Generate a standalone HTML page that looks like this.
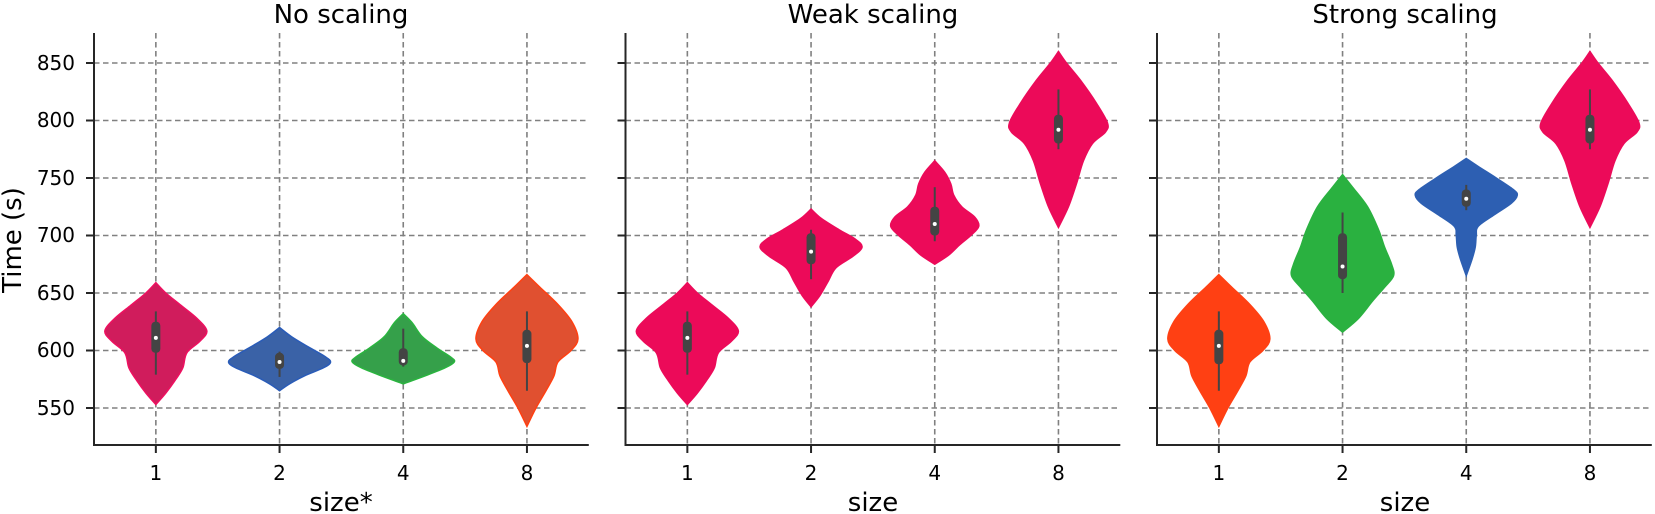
<!DOCTYPE html>
<html><head><meta charset="utf-8"><style>
html,body{margin:0;padding:0;background:#fff}
svg{display:block}
text{font-family:"DejaVu Sans","Liberation Sans",sans-serif;fill:#000}
</style></head><body>
<svg id="s" width="1655" height="514" viewBox="0 0 1655 514" xmlns="http://www.w3.org/2000/svg">
<g id="grid"></g><g id="vio"></g><g id="ax"></g>
<text x="341" y="23" font-size="26" text-anchor="middle">No scaling</text>
<text x="873" y="23" font-size="26" text-anchor="middle">Weak scaling</text>
<text x="1405" y="23" font-size="26" text-anchor="middle">Strong scaling</text>
<text x="341" y="511" font-size="26" text-anchor="middle">size*</text>
<text x="873" y="511" font-size="26" text-anchor="middle">size</text>
<text x="1405" y="511" font-size="26" text-anchor="middle">size</text>
<text transform="translate(21,240) rotate(-90)" font-size="26" text-anchor="middle">Time (s)</text>
<g font-size="20" text-anchor="end">
<text x="75" y="70">850</text><text x="75" y="127">800</text><text x="75" y="185">750</text>
<text x="75" y="242">700</text><text x="75" y="300">650</text><text x="75" y="357">600</text><text x="75" y="415">550</text>
</g>
<g id="xl" font-size="20" text-anchor="middle"></g>
</svg>
<script>
const NS="http://www.w3.org/2000/svg";
function el(p,t,a){const e=document.createElementNS(NS,t);for(const k in a)e.setAttribute(k,a[k]);document.getElementById(p).appendChild(e);return e;}
const Y=v=>408-(v-550)*1.15;
const Ls=[94,625.5,1157],TOP=33,BOT=445,SP=123.7;
const labs=["1","2","4","8"];
Ls.forEach(L=>{
  const R=L+4*SP;
  for(let v=550;v<=850;v+=50) el("grid","line",{x1:L,x2:R,y1:Y(v),y2:Y(v),stroke:"#808080","stroke-width":1.6,"stroke-dasharray":"5.5,3.5"});
  for(let k=0;k<4;k++){const x=L+SP/2+k*SP;
    el("grid","line",{x1:x,x2:x,y1:TOP,y2:BOT,stroke:"#808080","stroke-width":1.6,"stroke-dasharray":"5.5,3.5"});
    el("ax","line",{x1:x,x2:x,y1:BOT,y2:BOT+8,stroke:"#262626","stroke-width":2});
    const t=el("xl","text",{x:x,y:480});t.textContent=labs[k];}
  for(let v=550;v<=850;v+=50) el("ax","line",{x1:L-8,x2:L,y1:Y(v),y2:Y(v),stroke:"#262626","stroke-width":2});
  el("ax","line",{x1:L,x2:L,y1:TOP,y2:BOT+1,stroke:"#262626","stroke-width":2});
  el("ax","line",{x1:L-1,x2:R,y1:BOT,y2:BOT,stroke:"#262626","stroke-width":2});
});
function cr(pts){let d="M"+pts[0][0]+","+pts[0][1];
  for(let i=0;i<pts.length-1;i++){const p0=pts[Math.max(0,i-1)],p1=pts[i],p2=pts[i+1],p3=pts[Math.min(pts.length-1,i+2)];
    const c1=[p1[0]+(p2[0]-p0[0])/6,p1[1]+(p2[1]-p0[1])/6],c2=[p2[0]-(p3[0]-p1[0])/6,p2[1]-(p3[1]-p1[1])/6];
    d+=" C"+c1[0]+","+c1[1]+" "+c2[0]+","+c2[1]+" "+p2[0]+","+p2[1];}
  return d;}
function violin(p,k,prof,fill,edge,box){
  const x=Ls[p]+SP/2+k*SP;
  const r=prof.map(q=>[x+q[1],Y(q[0])]);
  const l=prof.slice().reverse().map(q=>[x-q[1],Y(q[0])]);
  const d=cr(r)+" "+cr(l).replace("M","L")+" Z";
  el("vio","path",{d:d,fill:fill,stroke:edge,"stroke-width":1.5});
  const [w0,b0,m,b1,w1]=box;
  el("vio","line",{x1:x,x2:x,y1:Y(w0),y2:Y(w1),stroke:"#444","stroke-width":2});
  el("vio","rect",{x:x-4.5,y:Y(b1),width:9,height:Y(b0)-Y(b1),rx:4,fill:"#444"});
  el("vio","circle",{cx:x,cy:Y(m),r:2,fill:"#fff"});
}
const A=[[659,0],[650,10],[640,24],[628,41],[617,51],[608,44],[598,31],[585,27],[575,20],[563,10],[553,0]];
const O=[[666,0],[655,13],[640,31],[625,45],[610,51],[600,44],[590,31],[578,27],[565,19],[550,9],[534,0]];
const V8=[[860,0],[850,8],[835,22],[815,38],[798,49],[790,47],[780,34],[765,25],[745,18],[725,10],[707,0]];
violin(0,0,A,"#d01c5c","#ee1060",[579,598,611,625,634]);
violin(0,1,[[620,0],[612,12],[603,29],[595,45],[590,51],[585,44],[578,25],[571,10],[565,0]],"#3a62a7","#2a5cb8",[577,584,590,598,599]);
violin(0,2,[[632,0],[624,9],[612,19],[602,34],[594,48],[590,51],[585,42],[578,22],[571,0]],"#35a04a","#2ab53f",[586,587,591,602,619]);
violin(0,3,O,"#e05030","#ff4012",[565,589,604,618,634]);
violin(1,0,A,"#ec0a59","#ec0a59",[579,598,611,625,634]);
violin(1,1,[[723,0],[715,10],[705,28],[697,44],[690,51],[682,42],[672,25],[660,17],[648,9],[638,0]],"#ec0a59","#ec0a59",[662,675,686,702,705]);
violin(1,2,[[765,0],[755,10],[745,16],[735,19],[725,27],[716,40],[708,44],[700,36],[692,25],[683,14],[675,0]],"#ec0a59","#ec0a59",[695,700,710,725,742]);
violin(1,3,V8,"#ec0a59","#ec0a59",[775,780,792,805,827]);
violin(2,0,O,"#ff4013","#ff4013",[565,588,604,618,634]);
violin(2,1,[[753,0],[742,10],[725,25],[705,36],[690,42],[675,49],[665,51],[655,42],[643,30],[628,16],[616,0]],"#2ab140","#2ab140",[650,662,673,702,720]);
violin(2,2,[[767,0],[760,12],[750,30],[740,47],[735,51],[728,45],[718,28],[708,12],[700,10],[690,9],[680,6],[665,0]],"#2d5fb2","#2d5fb2",[722,725,732,740,744]);
violin(2,3,V8,"#ec0a59","#ec0a59",[775,780,792,805,827]);
</script>
</body></html>
